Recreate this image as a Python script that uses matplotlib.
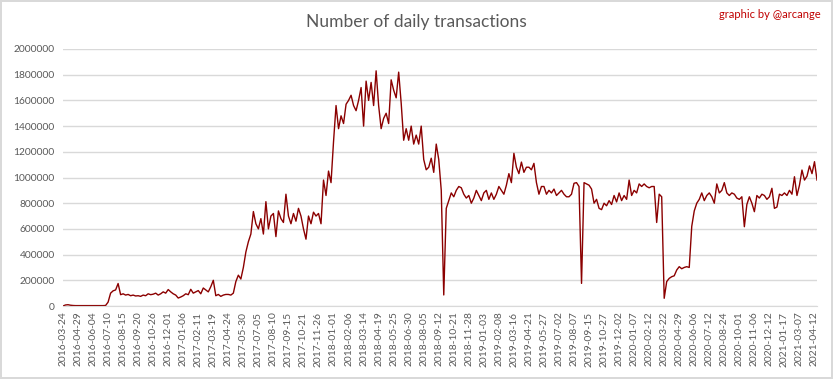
"""
Number of daily transactions, 2016-03-24 .. 2021-04-15.
Category axis (one slot per day of data), labelled every 36 slots.
"""

import numpy as np
import matplotlib
matplotlib.use("Agg")
import matplotlib.pyplot as plt

# sampled every 6 days, in thousands of transactions
SAMPLE_STEP = 6
tx_thousands = [
    0, 8, 10, 6, 4, 3,
    3, 3, 3, 3, 3, 3,
    3, 3, 3, 3, 3, 4,
    30, 100, 118, 125, 175, 88,
    95, 85, 90, 80, 85, 78,
    80, 75, 85, 80, 95, 88,
    92, 100, 85, 95, 110, 100,
    128, 110, 95, 85, 62, 70,
    80, 95, 88, 130, 100, 110,
    120, 95, 140, 125, 110, 150,
    200, 80, 90, 75, 85, 90,
    90, 85, 100, 190, 240, 210,
    300, 420, 500, 560, 735, 640,
    600, 680, 560, 812, 600, 700,
    720, 540, 740, 680, 650, 870,
    700, 640, 720, 660, 760, 700,
    600, 520, 700, 640, 730, 700,
    720, 640, 980, 860, 1050, 960,
    1280, 1560, 1380, 1480, 1420, 1570,
    1600, 1640, 1560, 1520, 1600, 1700,
    1400, 1750, 1600, 1740, 1560, 1830,
    1560, 1380, 1460, 1500, 1420, 1760,
    1680, 1620, 1820, 1580, 1290, 1380,
    1290, 1400, 1260, 1330, 1260, 1400,
    1140, 1060, 1080, 1150, 1040, 1260,
    1140, 900, 86, 760, 820, 880,
    850, 900, 930, 920, 870, 840,
    860, 800, 840, 900, 860, 820,
    880, 900, 830, 880, 830, 870,
    930, 900, 870, 940, 1030, 960,
    1188, 1080, 1030, 1120, 1040, 1080,
    1080, 1060, 1110, 960, 870, 930,
    930, 870, 900, 880, 910, 860,
    880, 900, 870, 850, 850, 870,
    955, 960, 930, 176, 960, 950,
    940, 910, 800, 830, 760, 750,
    800, 780, 820, 790, 860, 810,
    880, 820, 860, 830, 980, 860,
    900, 880, 950, 930, 950, 930,
    920, 930, 930, 650, 870, 850,
    60, 190, 215, 228, 235, 280,
    306, 290, 300, 306, 300, 620,
    740, 800, 830, 880, 820, 860,
    880, 850, 800, 950, 880, 900,
    960, 880, 860, 880, 870, 840,
    830, 850, 617, 790, 850, 800,
    734, 860, 840, 870, 860, 830,
    850, 916, 760, 770, 870, 860,
    880, 860, 900, 870, 1006, 860,
    940, 1058, 980, 1010, 1090, 1030,
    1123, 980,
]

LABEL_STEP = 36
date_labels = [
    "2016-03-24", "2016-04-29", "2016-06-04", "2016-07-10", "2016-08-15",
    "2016-09-20", "2016-10-26", "2016-12-01", "2017-01-06", "2017-02-11",
    "2017-03-19", "2017-04-24", "2017-05-30", "2017-07-05", "2017-08-10",
    "2017-09-15", "2017-10-21", "2017-11-26", "2018-01-01", "2018-02-06",
    "2018-03-14", "2018-04-19", "2018-05-25", "2018-06-30", "2018-08-05",
    "2018-09-12", "2018-10-21", "2018-11-28", "2019-01-03", "2019-02-08",
    "2019-03-16", "2019-04-21", "2019-05-27", "2019-07-02", "2019-08-07",
    "2019-09-15", "2019-10-27", "2019-12-02", "2020-01-07", "2020-02-12",
    "2020-03-22", "2020-04-29", "2020-06-06", "2020-07-12", "2020-08-24",
    "2020-10-01", "2020-11-06", "2020-12-12", "2021-01-17", "2021-03-07",
    "2021-04-12",
]

y_ticks = [0, 200000, 400000, 600000, 800000, 1000000,
           1200000, 1400000, 1600000, 1800000, 2000000]

LINE_COLOR = "#8B0000"
TEXT_GREY = "#595959"
GRID_GREY = "#D9D9D9"

plt.rcParams["font.family"] = ["Lato", "DejaVu Sans"]

values = np.array(tx_thousands) * 1000
x = np.arange(len(values)) * SAMPLE_STEP

fig = plt.figure(figsize=(8.33, 3.79), dpi=100)
fig.patch.set_facecolor("white")
fig.patch.set_edgecolor(GRID_GREY)
fig.patch.set_linewidth(1.5)

ax = fig.add_axes([63 / 833, 1 - 306 / 379, 754 / 833, 257 / 379])
ax.plot(x, values, color=LINE_COLOR, linewidth=1.0)

ax.set_xlim(0, x[-1])
ax.set_ylim(0, 2000000)
ax.set_yticks(y_ticks)
ax.set_yticklabels([str(v) for v in y_ticks])
ax.set_xticks(np.arange(len(date_labels)) * LABEL_STEP)
ax.set_xticklabels(date_labels, rotation=90)

ax.tick_params(axis="both", length=0, labelsize=7.4, colors=TEXT_GREY)
ax.tick_params(axis="x", pad=4)
ax.tick_params(axis="y", pad=6)
ax.grid(axis="y", color=GRID_GREY, linewidth=1.0)
ax.set_axisbelow(True)
for side in ("top", "right", "left"):
    ax.spines[side].set_visible(False)
ax.spines["bottom"].set_color(GRID_GREY)

fig.text(0.5, 1 - 22 / 379, "Number of daily transactions",
         ha="center", va="center", fontsize=12.5, color=TEXT_GREY)
fig.text(821 / 833, 1 - 14 / 379, "graphic by @arcange",
         ha="right", va="center", fontsize=8, color="#C00000")

fig.savefig("out.png", dpi=100)
plt.close(fig)
